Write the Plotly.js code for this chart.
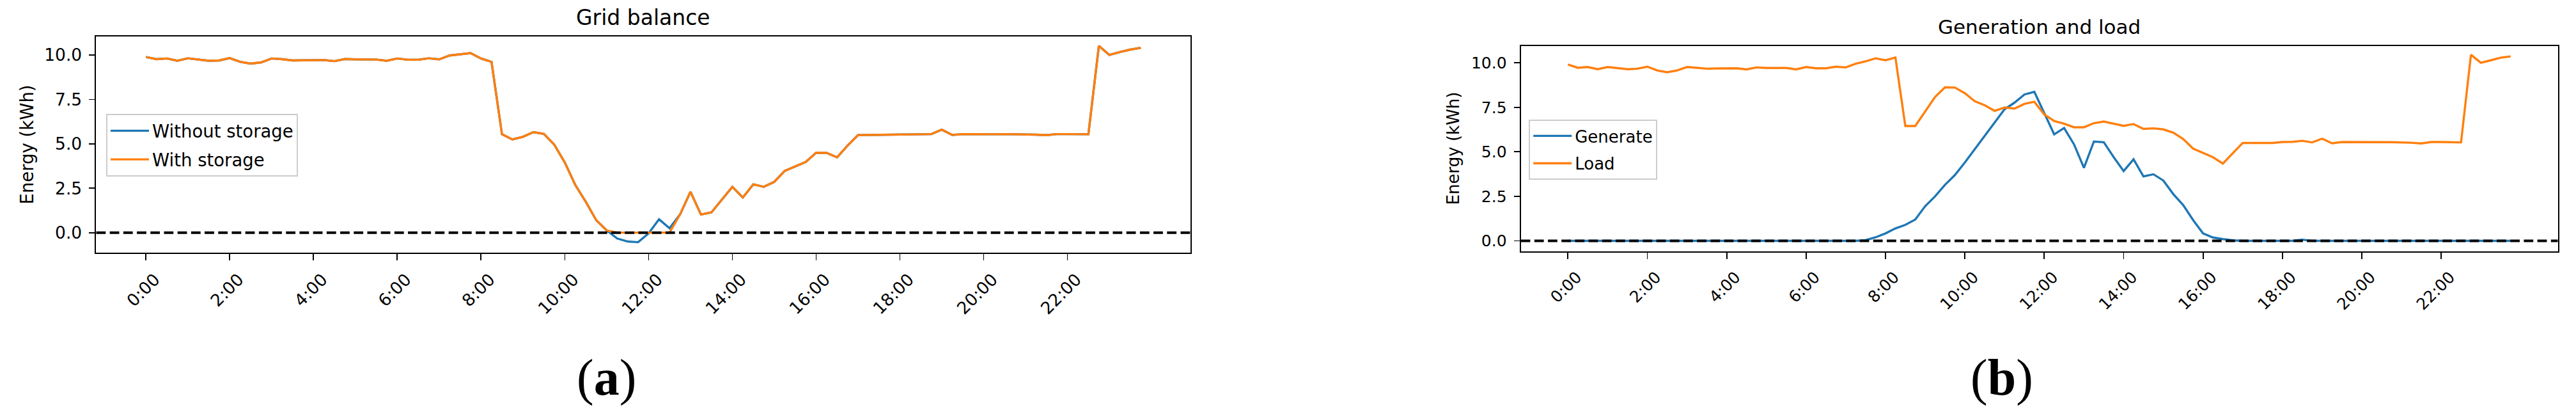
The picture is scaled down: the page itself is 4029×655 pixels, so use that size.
<!DOCTYPE html>
<html>
<head>
<meta charset="utf-8">
<script src="https://cdn.plot.ly/plotly-3.0.1.min.js"></script>
<style>
  body { margin: 0; background: #fff; }
  #tester { width: 4029px; height: 655px; }
</style>
</head>
<body>
<div id="tester"></div>
<script>
// quarter-hour slots of one day
var timeSlots = [
  '0:00','0:15','0:30','0:45','1:00','1:15','1:30','1:45',
  '2:00','2:15','2:30','2:45','3:00','3:15','3:30','3:45',
  '4:00','4:15','4:30','4:45','5:00','5:15','5:30','5:45',
  '6:00','6:15','6:30','6:45','7:00','7:15','7:30','7:45',
  '8:00','8:15','8:30','8:45','9:00','9:15','9:30','9:45',
  '10:00','10:15','10:30','10:45','11:00','11:15','11:30','11:45',
  '12:00','12:15','12:30','12:45','13:00','13:15','13:30','13:45',
  '14:00','14:15','14:30','14:45','15:00','15:15','15:30','15:45',
  '16:00','16:15','16:30','16:45','17:00','17:15','17:30','17:45',
  '18:00','18:15','18:30','18:45','19:00','19:15','19:30','19:45',
  '20:00','20:15','20:30','20:45','21:00','21:15','21:30','21:45',
  '22:00','22:15','22:30','22:45','23:00','23:15','23:30','23:45'
];

var hourTicks = ['0:00','2:00','4:00','6:00','8:00','10:00','12:00','14:00','16:00','18:00','20:00','22:00'];

// (a) grid balance
var withoutStorage = [
  9.89, 9.77, 9.81, 9.68, 9.82, 9.74, 9.68, 9.70, 9.83, 9.62, 9.52, 9.59,
  9.81, 9.77, 9.70, 9.71, 9.72, 9.72, 9.66, 9.78, 9.76, 9.76, 9.75, 9.68,
  9.81, 9.74, 9.74, 9.82, 9.76, 9.98, 10.04, 10.11, 9.81, 9.62, 5.54, 5.25,
  5.40, 5.66, 5.56, 4.95, 3.95, 2.68, 1.74, 0.70, 0.12, -0.33, -0.50, -0.54,
  -0.04, 0.75, 0.25, 1.02, 2.30, 1.02, 1.14, 1.86, 2.58, 1.98, 2.72, 2.58,
  2.86, 3.48, 3.73, 3.98, 4.50, 4.49, 4.24, 4.90, 5.49, 5.50, 5.52, 5.52,
  5.54, 5.55, 5.55, 5.55, 5.80, 5.50, 5.55, 5.54, 5.54, 5.54, 5.55, 5.55,
  5.54, 5.52, 5.49, 5.55, 5.55, 5.55, 5.54, 10.52, 10.01, 10.17, 10.31, 10.41
];

var withStorage = [
  9.89, 9.77, 9.81, 9.68, 9.82, 9.74, 9.68, 9.70, 9.83, 9.62, 9.52, 9.59,
  9.81, 9.77, 9.70, 9.71, 9.72, 9.72, 9.66, 9.78, 9.76, 9.76, 9.75, 9.68,
  9.81, 9.74, 9.74, 9.82, 9.76, 9.98, 10.04, 10.11, 9.81, 9.62, 5.54, 5.25,
  5.40, 5.66, 5.56, 4.95, 3.95, 2.68, 1.74, 0.70, 0.12, 0.00, 0.00, 0.00,
  0.00, 0.00, 0.00, 1.02, 2.30, 1.02, 1.14, 1.86, 2.58, 1.98, 2.72, 2.58,
  2.86, 3.48, 3.73, 3.98, 4.50, 4.49, 4.24, 4.90, 5.49, 5.50, 5.52, 5.52,
  5.54, 5.55, 5.55, 5.55, 5.80, 5.50, 5.55, 5.54, 5.54, 5.54, 5.55, 5.55,
  5.54, 5.52, 5.49, 5.55, 5.55, 5.55, 5.54, 10.52, 10.01, 10.17, 10.31, 10.41
];

// (b) generation and load
var generate = [
  0, 0, 0, 0, 0, 0, 0, 0, 0, 0, 0, 0,
  0, 0, 0, 0, 0, 0, 0, 0, 0, 0, 0, 0,
  0, 0, 0, 0, 0, 0, 0.04, 0.20, 0.42, 0.70, 0.90, 1.20,
  1.95, 2.50, 3.15, 3.70, 4.40, 5.15, 5.90, 6.67, 7.39, 7.76, 8.22, 8.37,
  7.15, 5.98, 6.34, 5.42, 4.10, 5.58, 5.54, 4.70, 3.92, 4.58, 3.62, 3.74,
  3.39, 2.63, 2.01, 1.17, 0.42, 0.19, 0.10, 0.03, 0, 0, 0, 0,
  0, 0, 0.07, 0, 0, 0, 0, 0, 0, 0, 0, 0,
  0, 0, 0, 0, 0, 0, 0, 0, 0, 0, 0, 0
];

var load = [
  9.90, 9.72, 9.76, 9.64, 9.76, 9.69, 9.64, 9.67, 9.78, 9.57, 9.47, 9.57,
  9.76, 9.72, 9.67, 9.68, 9.69, 9.69, 9.63, 9.74, 9.71, 9.71, 9.71, 9.63,
  9.76, 9.69, 9.69, 9.78, 9.74, 9.95, 10.08, 10.25, 10.14, 10.30, 6.45, 6.45,
  7.27, 8.08, 8.62, 8.61, 8.29, 7.84, 7.62, 7.30, 7.49, 7.43, 7.69, 7.81,
  7.10, 6.73, 6.58, 6.38, 6.38, 6.61, 6.70, 6.58, 6.46, 6.56, 6.29, 6.32,
  6.26, 6.08, 5.72, 5.18, 4.93, 4.70, 4.34, 4.90, 5.50, 5.50, 5.50, 5.50,
  5.55, 5.56, 5.62, 5.53, 5.74, 5.48, 5.55, 5.54, 5.54, 5.54, 5.54, 5.54,
  5.54, 5.51, 5.47, 5.55, 5.55, 5.55, 5.53, 10.45, 10.00, 10.14, 10.29, 10.36
];

var BLUE = '#1f77b4';
var ORANGE = '#ff7f0e';
var FONT = 'DejaVu Sans, sans-serif';

function line(y, name, color, xa, ya, lg) {
  return {
    x: timeSlots, y: y, name: name, type: 'scatter', mode: 'lines',
    line: { color: color, width: 3.4 },
    xaxis: xa, yaxis: ya, legend: lg, legendgroup: name
  };
}

var data = [
  line(withoutStorage, 'Without storage', BLUE, 'x', 'y', 'legend'),
  line(withStorage, 'With storage', ORANGE, 'x', 'y', 'legend'),
  line(generate, 'Generate', BLUE, 'x2', 'y2', 'legend2'),
  line(load, 'Load', ORANGE, 'x2', 'y2', 'legend2')
];

function xAxis(domain, anchor, size) {
  return {
    domain: domain, anchor: anchor, type: 'category',
    range: [-4.75, 99.75],
    tickmode: 'array', tickvals: hourTicks, ticktext: hourTicks,
    tickangle: -45,
    ticks: 'outside', ticklen: 10, tickwidth: 1.8, tickcolor: '#000',
    ticklabelshift: 14, ticklabelstandoff: 4,
    showline: true, linecolor: '#000', linewidth: 2, mirror: true,
    showgrid: false, zeroline: false, automargin: false,
    tickfont: { family: FONT, size: size, color: '#000' }
  };
}

function yAxis(domain, anchor, range, size) {
  return {
    domain: domain, anchor: anchor, range: range,
    tick0: 0, dtick: 2.5, tickformat: '.1f',
    ticks: 'outside', ticklen: 9, tickwidth: 1.8, tickcolor: '#000',
    ticklabelstandoff: 6,
    showline: true, linecolor: '#000', linewidth: 2, mirror: true,
    showgrid: false, zeroline: false, automargin: false,
    tickfont: { family: FONT, size: size, color: '#000' }
  };
}

function legendBox(x, y, size) {
  return {
    x: x, y: y, xanchor: 'left', yanchor: 'top', xref: 'paper', yref: 'paper',
    bgcolor: 'rgba(255,255,255,0.8)', bordercolor: '#cccccc', borderwidth: 2,
    itemwidth: 60, tracegroupgap: 6,
    font: { family: FONT, size: size, color: '#000' }
  };
}

function zeroLine(xref, yref) {
  return {
    type: 'line', xref: xref, yref: yref, x0: 0, x1: 1, y0: 0, y1: 0,
    line: { color: '#000', width: 4, dash: '14.8px,6.4px' }, layer: 'above'
  };
}

function label(text, x, y, size, angle) {
  return {
    text: text, x: x, y: y, xref: 'paper', yref: 'paper',
    xanchor: 'center', yanchor: 'middle', showarrow: false,
    textangle: angle || 0,
    font: { family: FONT, size: size, color: '#000' }
  };
}

var layout = {
  width: 4029, height: 655,
  margin: { l: 0, r: 0, t: 0, b: 0 },
  paper_bgcolor: '#fff', plot_bgcolor: '#fff',
  showlegend: true,

  xaxis: xAxis([0.03735, 0.46215], 'y', 26.5),
  yaxis: yAxis([0.39695, 0.91298], 'x', [-1.13, 11.05], 26.5),
  xaxis2: xAxis([0.59037, 0.99293], 'y2', 25),
  yaxis2: yAxis([0.40046, 0.89053], 'x2', [-0.58, 10.95], 25),

  legend: legendBox(0.0412, 0.7282, 27.5),
  legend2: legendBox(0.5935, 0.7145, 26),

  shapes: [zeroLine('x domain', 'y'), zeroLine('x2 domain', 'y2')],

  annotations: [
    label('Grid balance', 0.24975, 0.9573, 33),
    label('Generation and load', 0.79165, 0.9359, 31),
    label('Energy (kWh)', 0.0103, 0.655, 27.5, -90),
    label('Energy (kWh)', 0.5642, 0.6455, 26, -90),
    {
      text: '(<b>a</b>)', x: 948 / 4029, y: 0.0992, xref: 'paper', yref: 'paper',
      xanchor: 'center', yanchor: 'middle', showarrow: false,
      font: { family: 'Liberation Serif, serif', size: 80, color: '#000' }
    },
    {
      text: '(<b>b</b>)', x: 3131 / 4029, y: 0.0992, xref: 'paper', yref: 'paper',
      xanchor: 'center', yanchor: 'middle', showarrow: false,
      font: { family: 'Liberation Serif, serif', size: 80, color: '#000' }
    }
  ]
};

TESTER = document.getElementById('tester');

Plotly.newPlot(TESTER, data, layout, { staticPlot: true });
</script>
</body>
</html>
